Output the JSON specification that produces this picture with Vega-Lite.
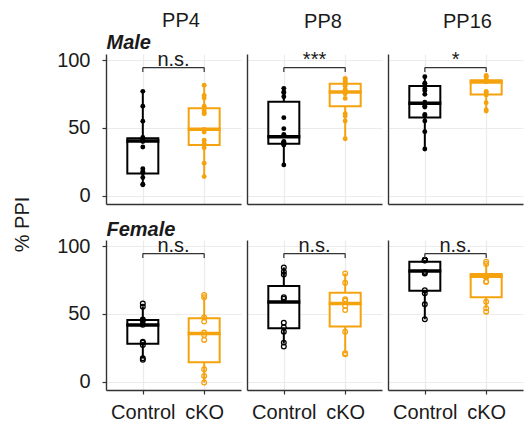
{
  "$schema": "https://vega.github.io/schema/vega-lite/v6.json",
  "padding": {"left": 12, "top": 11, "right": 2, "bottom": 2},
  "title": {"text": "% PPI", "orient": "left", "anchor": "middle", "fontSize": 20, "fontWeight": "normal", "color": "#1a1a1a", "font": "Liberation Sans", "offset": 24, "dx": -8},
  "datasets": {
    "pts": [
      {"t": "PP4", "sex": "Male", "g": "Control", "ppi": 77}, {"t": "PP4", "sex": "Male", "g": "Control", "ppi": 66}, {"t": "PP4", "sex": "Male", "g": "Control", "ppi": 55}, {"t": "PP4", "sex": "Male", "g": "Control", "ppi": 43}, {"t": "PP4", "sex": "Male", "g": "Control", "ppi": 42}, {"t": "PP4", "sex": "Male", "g": "Control", "ppi": 42}, {"t": "PP4", "sex": "Male", "g": "Control", "ppi": 41}, {"t": "PP4", "sex": "Male", "g": "Control", "ppi": 40}, {"t": "PP4", "sex": "Male", "g": "Control", "ppi": 36}, {"t": "PP4", "sex": "Male", "g": "Control", "ppi": 20}, {"t": "PP4", "sex": "Male", "g": "Control", "ppi": 18}, {"t": "PP4", "sex": "Male", "g": "Control", "ppi": 17}, {"t": "PP4", "sex": "Male", "g": "Control", "ppi": 13.5}, {"t": "PP4", "sex": "Male", "g": "Control", "ppi": 8.6}, {"t": "PP4", "sex": "Male", "g": "Control", "ppi": 8.1},
      {"t": "PP4", "sex": "Male", "g": "cKO", "ppi": 81.5}, {"t": "PP4", "sex": "Male", "g": "cKO", "ppi": 74}, {"t": "PP4", "sex": "Male", "g": "cKO", "ppi": 72}, {"t": "PP4", "sex": "Male", "g": "cKO", "ppi": 66}, {"t": "PP4", "sex": "Male", "g": "cKO", "ppi": 62.5}, {"t": "PP4", "sex": "Male", "g": "cKO", "ppi": 61}, {"t": "PP4", "sex": "Male", "g": "cKO", "ppi": 60.5}, {"t": "PP4", "sex": "Male", "g": "cKO", "ppi": 49}, {"t": "PP4", "sex": "Male", "g": "cKO", "ppi": 47}, {"t": "PP4", "sex": "Male", "g": "cKO", "ppi": 41}, {"t": "PP4", "sex": "Male", "g": "cKO", "ppi": 38}, {"t": "PP4", "sex": "Male", "g": "cKO", "ppi": 38}, {"t": "PP4", "sex": "Male", "g": "cKO", "ppi": 35.5}, {"t": "PP4", "sex": "Male", "g": "cKO", "ppi": 24}, {"t": "PP4", "sex": "Male", "g": "cKO", "ppi": 14.2},
      {"t": "PP8", "sex": "Male", "g": "Control", "ppi": 79.2}, {"t": "PP8", "sex": "Male", "g": "Control", "ppi": 76.5}, {"t": "PP8", "sex": "Male", "g": "Control", "ppi": 76}, {"t": "PP8", "sex": "Male", "g": "Control", "ppi": 73}, {"t": "PP8", "sex": "Male", "g": "Control", "ppi": 57.6}, {"t": "PP8", "sex": "Male", "g": "Control", "ppi": 49.5}, {"t": "PP8", "sex": "Male", "g": "Control", "ppi": 45.3}, {"t": "PP8", "sex": "Male", "g": "Control", "ppi": 40}, {"t": "PP8", "sex": "Male", "g": "Control", "ppi": 39.5}, {"t": "PP8", "sex": "Male", "g": "Control", "ppi": 39}, {"t": "PP8", "sex": "Male", "g": "Control", "ppi": 38.5}, {"t": "PP8", "sex": "Male", "g": "Control", "ppi": 38.2}, {"t": "PP8", "sex": "Male", "g": "Control", "ppi": 38}, {"t": "PP8", "sex": "Male", "g": "Control", "ppi": 37.5}, {"t": "PP8", "sex": "Male", "g": "Control", "ppi": 22.8},
      {"t": "PP8", "sex": "Male", "g": "cKO", "ppi": 86.5}, {"t": "PP8", "sex": "Male", "g": "cKO", "ppi": 86}, {"t": "PP8", "sex": "Male", "g": "cKO", "ppi": 84.6}, {"t": "PP8", "sex": "Male", "g": "cKO", "ppi": 84}, {"t": "PP8", "sex": "Male", "g": "cKO", "ppi": 82.5}, {"t": "PP8", "sex": "Male", "g": "cKO", "ppi": 82}, {"t": "PP8", "sex": "Male", "g": "cKO", "ppi": 81}, {"t": "PP8", "sex": "Male", "g": "cKO", "ppi": 78.4}, {"t": "PP8", "sex": "Male", "g": "cKO", "ppi": 77.5}, {"t": "PP8", "sex": "Male", "g": "cKO", "ppi": 75.2}, {"t": "PP8", "sex": "Male", "g": "cKO", "ppi": 71.8}, {"t": "PP8", "sex": "Male", "g": "cKO", "ppi": 60.5}, {"t": "PP8", "sex": "Male", "g": "cKO", "ppi": 58.8}, {"t": "PP8", "sex": "Male", "g": "cKO", "ppi": 55.1}, {"t": "PP8", "sex": "Male", "g": "cKO", "ppi": 42.1},
      {"t": "PP16", "sex": "Male", "g": "Control", "ppi": 87.7}, {"t": "PP16", "sex": "Male", "g": "Control", "ppi": 83}, {"t": "PP16", "sex": "Male", "g": "Control", "ppi": 82.5}, {"t": "PP16", "sex": "Male", "g": "Control", "ppi": 79}, {"t": "PP16", "sex": "Male", "g": "Control", "ppi": 77.7}, {"t": "PP16", "sex": "Male", "g": "Control", "ppi": 74.8}, {"t": "PP16", "sex": "Male", "g": "Control", "ppi": 69}, {"t": "PP16", "sex": "Male", "g": "Control", "ppi": 67.4}, {"t": "PP16", "sex": "Male", "g": "Control", "ppi": 66}, {"t": "PP16", "sex": "Male", "g": "Control", "ppi": 65.4}, {"t": "PP16", "sex": "Male", "g": "Control", "ppi": 60}, {"t": "PP16", "sex": "Male", "g": "Control", "ppi": 59}, {"t": "PP16", "sex": "Male", "g": "Control", "ppi": 55.1}, {"t": "PP16", "sex": "Male", "g": "Control", "ppi": 47.3}, {"t": "PP16", "sex": "Male", "g": "Control", "ppi": 34.5},
      {"t": "PP16", "sex": "Male", "g": "cKO", "ppi": 88.7}, {"t": "PP16", "sex": "Male", "g": "cKO", "ppi": 87.7}, {"t": "PP16", "sex": "Male", "g": "cKO", "ppi": 87.5}, {"t": "PP16", "sex": "Male", "g": "cKO", "ppi": 85.5}, {"t": "PP16", "sex": "Male", "g": "cKO", "ppi": 85}, {"t": "PP16", "sex": "Male", "g": "cKO", "ppi": 85}, {"t": "PP16", "sex": "Male", "g": "cKO", "ppi": 84.5}, {"t": "PP16", "sex": "Male", "g": "cKO", "ppi": 84}, {"t": "PP16", "sex": "Male", "g": "cKO", "ppi": 76.7}, {"t": "PP16", "sex": "Male", "g": "cKO", "ppi": 76.7}, {"t": "PP16", "sex": "Male", "g": "cKO", "ppi": 75}, {"t": "PP16", "sex": "Male", "g": "cKO", "ppi": 74.3}, {"t": "PP16", "sex": "Male", "g": "cKO", "ppi": 68.6}, {"t": "PP16", "sex": "Male", "g": "cKO", "ppi": 63.2}, {"t": "PP16", "sex": "Male", "g": "cKO", "ppi": 62.5},
      {"t": "PP4", "sex": "Female", "g": "Control", "ppi": 57.8}, {"t": "PP4", "sex": "Female", "g": "Control", "ppi": 55.4}, {"t": "PP4", "sex": "Female", "g": "Control", "ppi": 46}, {"t": "PP4", "sex": "Female", "g": "Control", "ppi": 45}, {"t": "PP4", "sex": "Female", "g": "Control", "ppi": 42}, {"t": "PP4", "sex": "Female", "g": "Control", "ppi": 29.6}, {"t": "PP4", "sex": "Female", "g": "Control", "ppi": 28.9}, {"t": "PP4", "sex": "Female", "g": "Control", "ppi": 27.2}, {"t": "PP4", "sex": "Female", "g": "Control", "ppi": 17.4}, {"t": "PP4", "sex": "Female", "g": "Control", "ppi": 16.2},
      {"t": "PP4", "sex": "Female", "g": "cKO", "ppi": 64}, {"t": "PP4", "sex": "Female", "g": "cKO", "ppi": 62.3}, {"t": "PP4", "sex": "Female", "g": "cKO", "ppi": 47.5}, {"t": "PP4", "sex": "Female", "g": "cKO", "ppi": 44.4}, {"t": "PP4", "sex": "Female", "g": "cKO", "ppi": 36.3}, {"t": "PP4", "sex": "Female", "g": "cKO", "ppi": 34.5}, {"t": "PP4", "sex": "Female", "g": "cKO", "ppi": 30.9}, {"t": "PP4", "sex": "Female", "g": "cKO", "ppi": 9.3}, {"t": "PP4", "sex": "Female", "g": "cKO", "ppi": 4.4}, {"t": "PP4", "sex": "Female", "g": "cKO", "ppi": -0.5},
      {"t": "PP8", "sex": "Female", "g": "Control", "ppi": 84.3}, {"t": "PP8", "sex": "Female", "g": "Control", "ppi": 81.1}, {"t": "PP8", "sex": "Female", "g": "Control", "ppi": 79}, {"t": "PP8", "sex": "Female", "g": "Control", "ppi": 62.3}, {"t": "PP8", "sex": "Female", "g": "Control", "ppi": 61.3}, {"t": "PP8", "sex": "Female", "g": "Control", "ppi": 43.6}, {"t": "PP8", "sex": "Female", "g": "Control", "ppi": 40.2}, {"t": "PP8", "sex": "Female", "g": "Control", "ppi": 37}, {"t": "PP8", "sex": "Female", "g": "Control", "ppi": 28.9}, {"t": "PP8", "sex": "Female", "g": "Control", "ppi": 26},
      {"t": "PP8", "sex": "Female", "g": "cKO", "ppi": 79.9}, {"t": "PP8", "sex": "Female", "g": "cKO", "ppi": 73}, {"t": "PP8", "sex": "Female", "g": "cKO", "ppi": 60.8}, {"t": "PP8", "sex": "Female", "g": "cKO", "ppi": 59.8}, {"t": "PP8", "sex": "Female", "g": "cKO", "ppi": 55.9}, {"t": "PP8", "sex": "Female", "g": "cKO", "ppi": 52.9}, {"t": "PP8", "sex": "Female", "g": "cKO", "ppi": 37}, {"t": "PP8", "sex": "Female", "g": "cKO", "ppi": 21}, {"t": "PP8", "sex": "Female", "g": "cKO", "ppi": 20.3},
      {"t": "PP16", "sex": "Female", "g": "Control", "ppi": 89.7}, {"t": "PP16", "sex": "Female", "g": "Control", "ppi": 89.7}, {"t": "PP16", "sex": "Female", "g": "Control", "ppi": 89.5}, {"t": "PP16", "sex": "Female", "g": "Control", "ppi": 89.7}, {"t": "PP16", "sex": "Female", "g": "Control", "ppi": 89.4}, {"t": "PP16", "sex": "Female", "g": "Control", "ppi": 81}, {"t": "PP16", "sex": "Female", "g": "Control", "ppi": 79.9}, {"t": "PP16", "sex": "Female", "g": "Control", "ppi": 67.5}, {"t": "PP16", "sex": "Female", "g": "Control", "ppi": 65.2}, {"t": "PP16", "sex": "Female", "g": "Control", "ppi": 57.1}, {"t": "PP16", "sex": "Female", "g": "Control", "ppi": 46.1},
      {"t": "PP16", "sex": "Female", "g": "cKO", "ppi": 88.5}, {"t": "PP16", "sex": "Female", "g": "cKO", "ppi": 86.8}, {"t": "PP16", "sex": "Female", "g": "cKO", "ppi": 77.5}, {"t": "PP16", "sex": "Female", "g": "cKO", "ppi": 77.5}, {"t": "PP16", "sex": "Female", "g": "cKO", "ppi": 77.6}, {"t": "PP16", "sex": "Female", "g": "cKO", "ppi": 77.4}, {"t": "PP16", "sex": "Female", "g": "cKO", "ppi": 77.5}, {"t": "PP16", "sex": "Female", "g": "cKO", "ppi": 73.8}, {"t": "PP16", "sex": "Female", "g": "cKO", "ppi": 73.8}, {"t": "PP16", "sex": "Female", "g": "cKO", "ppi": 59}, {"t": "PP16", "sex": "Female", "g": "cKO", "ppi": 54.2}, {"t": "PP16", "sex": "Female", "g": "cKO", "ppi": 51.7}
    ],
    "box": [
      {"t": "PP4", "sex": "Male", "g": "Control", "lower": 8.3, "q1": 16.4, "median": 40.5, "q3": 42.5, "upper": 77},
      {"t": "PP4", "sex": "Male", "g": "cKO", "lower": 14.2, "q1": 37.5, "median": 49, "q3": 64.5, "upper": 81.5},
      {"t": "PP8", "sex": "Male", "g": "Control", "lower": 22.8, "q1": 38.3, "median": 43.6, "q3": 69.4, "upper": 79.2},
      {"t": "PP8", "sex": "Male", "g": "cKO", "lower": 42.1, "q1": 66, "median": 76.5, "q3": 82.6, "upper": 86.5},
      {"t": "PP16", "sex": "Male", "g": "Control", "lower": 34.5, "q1": 57.8, "median": 68.2, "q3": 81, "upper": 87.7},
      {"t": "PP16", "sex": "Male", "g": "cKO", "lower": 62.5, "q1": 74.6, "median": 83.8, "q3": 85.1, "upper": 88.5},
      {"t": "PP4", "sex": "Female", "g": "Control", "lower": 17.4, "q1": 28, "median": 41.8, "q3": 45.6, "upper": 55.4},
      {"t": "PP4", "sex": "Female", "g": "cKO", "lower": -0.5, "q1": 14.5, "median": 35.7, "q3": 46.8, "upper": 62.8},
      {"t": "PP8", "sex": "Female", "g": "Control", "lower": 28.4, "q1": 39.5, "median": 58.8, "q3": 70.6, "upper": 84.3},
      {"t": "PP8", "sex": "Female", "g": "cKO", "lower": 21, "q1": 40.7, "median": 57.8, "q3": 65.7, "upper": 79.9},
      {"t": "PP16", "sex": "Female", "g": "Control", "lower": 46.1, "q1": 67.1, "median": 81.6, "q3": 88.5, "upper": 89.7},
      {"t": "PP16", "sex": "Female", "g": "cKO", "lower": 54.2, "q1": 62.3, "median": 77.8, "q3": 79.4, "upper": 86.8}
    ],
    "sig": [
      {"t": "PP4", "sex": "Male", "label": "n.s."},
      {"t": "PP8", "sex": "Male", "label": "***"},
      {"t": "PP16", "sex": "Male", "label": "*"},
      {"t": "PP4", "sex": "Female", "label": "n.s."},
      {"t": "PP8", "sex": "Female", "label": "n.s."},
      {"t": "PP16", "sex": "Female", "label": "n.s."}
    ]
  },
  "columns": 3,
  "spacing": {"row": 36, "column": 6},
  "bounds": "flush",
  "config": {
    "font": "Liberation Sans",
    "view": {"stroke": null},
    "axis": {"labelFont": "Liberation Sans", "labelFontSize": 20, "labelColor": "#1a1a1a", "domainColor": "#333333", "domainWidth": 1.4, "tickColor": "#333333", "tickWidth": 1.2, "tickSize": 4, "gridColor": "#EBEBEB", "gridWidth": 1.2},
    "title": {"font": "Liberation Sans", "fontSize": 20, "fontWeight": "normal", "color": "#1a1a1a"},
    "tick": {"opacity": 1},
    "point": {"opacity": 1}
  },
  "concat": [
    {
      "width": 135, "height": 150,
      "title": {"text": "PP4", "anchor": "middle", "baseline": "alphabetic", "dx": 7.5, "offset": -15},
      "data": {"name": "box"},
      "transform": [{"filter": "datum.t === 'PP4' && datum.sex === 'Male'"}],
      "resolve": {"axis": {"x": "independent"}},
      "layer": [
        {"mark": {"type": "rule", "strokeWidth": 2}, "encoding": {
          "x": {"field": "g", "type": "nominal", "scale": {"type": "point", "domain": ["Control", "cKO"], "padding": 0.6}, "axis": {"orient": "top", "title": "Male", "titleAnchor": "start", "titleFontStyle": "italic", "titleFontWeight": "bold", "titleFontSize": 20, "titleColor": "#1a1a1a", "titleBaseline": "alphabetic", "titlePadding": 6, "labels": false, "ticks": false, "domain": false, "grid": false}},
          "y": {"field": "lower", "type": "quantitative", "scale": {"domain": [-6, 104.5], "nice": false, "zero": false}, "axis": {"title": null, "grid": true, "values": [0, 25, 50, 75, 100], "labelExpr": "datum.value % 50 === 0 ? datum.label : ''", "labelPadding": 12}},
          "y2": {"field": "upper"},
          "color": {"field": "g", "type": "nominal", "scale": {"domain": ["Control", "cKO"], "range": ["#000000", "#F5A20F"]}, "legend": null}}},
        {"layer": [
          {"mark": {"type": "bar", "width": 31, "fill": "white", "strokeWidth": 2}, "encoding": {
            "x": {"field": "g", "type": "nominal", "axis": {"title": null, "grid": true, "labels": false, "ticks": false}},
            "y": {"field": "q1", "type": "quantitative"},
            "y2": {"field": "q3"},
            "stroke": {"field": "g", "type": "nominal", "scale": {"domain": ["Control", "cKO"], "range": ["#000000", "#F5A20F"]}, "legend": null}}},
          {"mark": {"type": "tick", "thickness": 3.5, "size": 33}, "encoding": {
            "x": {"field": "g", "type": "nominal"},
            "y": {"field": "median", "type": "quantitative"},
            "color": {"field": "g", "type": "nominal", "legend": null}}},
          {"data": {"name": "pts"}, "transform": [{"filter": "datum.t === 'PP4' && datum.sex === 'Male'"}],
           "mark": {"type": "point", "filled": true, "size": 24}, "encoding": {
            "x": {"field": "g", "type": "nominal"},
            "y": {"field": "ppi", "type": "quantitative"},
            "color": {"field": "g", "type": "nominal", "legend": null}}},
          {"mark": {"type": "rule", "color": "#333333", "strokeWidth": 1.2}, "encoding": {
            "x": {"field": "g", "type": "nominal"},
            "y": {"datum": 94.5}, "y2": {"datum": 91.2}}},
          {"data": {"name": "sig"}, "transform": [{"filter": "datum.t === 'PP4' && datum.sex === 'Male'"}],
           "mark": {"type": "rule", "color": "#333333", "strokeWidth": 1.2}, "encoding": {
            "x": {"datum": "Control"}, "x2": {"datum": "cKO"},
            "y": {"datum": 94.5}}},
          {"data": {"name": "sig"}, "transform": [{"filter": "datum.t === 'PP4' && datum.sex === 'Male'"}],
           "mark": {"type": "text", "fontSize": 20, "dx": 30.7, "baseline": "alphabetic", "color": "#1a1a1a"}, "encoding": {
            "x": {"datum": "Control"},
            "y": {"datum": 95.8},
            "text": {"field": "label"}}}
        ]}
      ]
    },
    {
      "width": 135, "height": 150,
      "title": {"text": "PP8", "anchor": "middle", "baseline": "alphabetic", "dx": 8.5, "offset": 2},
      "data": {"name": "box"},
      "transform": [{"filter": "datum.t === 'PP8' && datum.sex === 'Male'"}],
      "layer": [
        {"mark": {"type": "rule", "strokeWidth": 2}, "encoding": {
          "x": {"field": "g", "type": "nominal", "scale": {"type": "point", "domain": ["Control", "cKO"], "padding": 0.6}, "axis": {"title": null, "grid": true, "labels": false, "ticks": false}},
          "y": {"field": "lower", "type": "quantitative", "scale": {"domain": [-6, 104.5], "nice": false, "zero": false}, "axis": {"title": null, "grid": true, "values": [0, 25, 50, 75, 100], "labels": false, "ticks": false}},
          "y2": {"field": "upper"},
          "color": {"field": "g", "type": "nominal", "scale": {"domain": ["Control", "cKO"], "range": ["#000000", "#F5A20F"]}, "legend": null}}},
        {"mark": {"type": "bar", "width": 31, "fill": "white", "strokeWidth": 2}, "encoding": {
          "x": {"field": "g", "type": "nominal"},
          "y": {"field": "q1", "type": "quantitative"},
          "y2": {"field": "q3"},
          "stroke": {"field": "g", "type": "nominal", "scale": {"domain": ["Control", "cKO"], "range": ["#000000", "#F5A20F"]}, "legend": null}}},
        {"mark": {"type": "tick", "thickness": 3.5, "size": 33}, "encoding": {
          "x": {"field": "g", "type": "nominal"},
          "y": {"field": "median", "type": "quantitative"},
          "color": {"field": "g", "type": "nominal", "legend": null}}},
        {"data": {"name": "pts"}, "transform": [{"filter": "datum.t === 'PP8' && datum.sex === 'Male'"}],
         "mark": {"type": "point", "filled": true, "size": 24}, "encoding": {
          "x": {"field": "g", "type": "nominal"},
          "y": {"field": "ppi", "type": "quantitative"},
          "color": {"field": "g", "type": "nominal", "legend": null}}},
        {"mark": {"type": "rule", "color": "#333333", "strokeWidth": 1.2}, "encoding": {
          "x": {"field": "g", "type": "nominal"},
          "y": {"datum": 94.5}, "y2": {"datum": 91.2}}},
        {"data": {"name": "sig"}, "transform": [{"filter": "datum.t === 'PP8' && datum.sex === 'Male'"}],
         "mark": {"type": "rule", "color": "#333333", "strokeWidth": 1.2}, "encoding": {
          "x": {"datum": "Control"}, "x2": {"datum": "cKO"},
          "y": {"datum": 94.5}}},
        {"data": {"name": "sig"}, "transform": [{"filter": "datum.t === 'PP8' && datum.sex === 'Male'"}],
         "mark": {"type": "text", "fontSize": 20, "dx": 30.7, "baseline": "alphabetic", "color": "#1a1a1a"}, "encoding": {
          "x": {"datum": "Control"},
          "y": {"datum": 95.8},
          "text": {"field": "label"}}}
      ]
    },
    {
      "width": 135, "height": 150,
      "title": {"text": "PP16", "anchor": "middle", "baseline": "alphabetic", "dx": 12, "offset": 2},
      "data": {"name": "box"},
      "transform": [{"filter": "datum.t === 'PP16' && datum.sex === 'Male'"}],
      "layer": [
        {"mark": {"type": "rule", "strokeWidth": 2}, "encoding": {
          "x": {"field": "g", "type": "nominal", "scale": {"type": "point", "domain": ["Control", "cKO"], "padding": 0.6}, "axis": {"title": null, "grid": true, "labels": false, "ticks": false}},
          "y": {"field": "lower", "type": "quantitative", "scale": {"domain": [-6, 104.5], "nice": false, "zero": false}, "axis": {"title": null, "grid": true, "values": [0, 25, 50, 75, 100], "labels": false, "ticks": false}},
          "y2": {"field": "upper"},
          "color": {"field": "g", "type": "nominal", "scale": {"domain": ["Control", "cKO"], "range": ["#000000", "#F5A20F"]}, "legend": null}}},
        {"mark": {"type": "bar", "width": 31, "fill": "white", "strokeWidth": 2}, "encoding": {
          "x": {"field": "g", "type": "nominal"},
          "y": {"field": "q1", "type": "quantitative"},
          "y2": {"field": "q3"},
          "stroke": {"field": "g", "type": "nominal", "scale": {"domain": ["Control", "cKO"], "range": ["#000000", "#F5A20F"]}, "legend": null}}},
        {"mark": {"type": "tick", "thickness": 3.5, "size": 33}, "encoding": {
          "x": {"field": "g", "type": "nominal"},
          "y": {"field": "median", "type": "quantitative"},
          "color": {"field": "g", "type": "nominal", "legend": null}}},
        {"data": {"name": "pts"}, "transform": [{"filter": "datum.t === 'PP16' && datum.sex === 'Male'"}],
         "mark": {"type": "point", "filled": true, "size": 24}, "encoding": {
          "x": {"field": "g", "type": "nominal"},
          "y": {"field": "ppi", "type": "quantitative"},
          "color": {"field": "g", "type": "nominal", "legend": null}}},
        {"mark": {"type": "rule", "color": "#333333", "strokeWidth": 1.2}, "encoding": {
          "x": {"field": "g", "type": "nominal"},
          "y": {"datum": 94.5}, "y2": {"datum": 91.2}}},
        {"data": {"name": "sig"}, "transform": [{"filter": "datum.t === 'PP16' && datum.sex === 'Male'"}],
         "mark": {"type": "rule", "color": "#333333", "strokeWidth": 1.2}, "encoding": {
          "x": {"datum": "Control"}, "x2": {"datum": "cKO"},
          "y": {"datum": 94.5}}},
        {"data": {"name": "sig"}, "transform": [{"filter": "datum.t === 'PP16' && datum.sex === 'Male'"}],
         "mark": {"type": "text", "fontSize": 20, "dx": 30.7, "baseline": "alphabetic", "color": "#1a1a1a"}, "encoding": {
          "x": {"datum": "Control"},
          "y": {"datum": 95.8},
          "text": {"field": "label"}}}
      ]
    },
    {
      "width": 135, "height": 150,
      "data": {"name": "box"},
      "transform": [{"filter": "datum.t === 'PP4' && datum.sex === 'Female'"}],
      "resolve": {"axis": {"x": "independent"}},
      "layer": [
        {"mark": {"type": "rule", "strokeWidth": 2}, "encoding": {
          "x": {"field": "g", "type": "nominal", "scale": {"type": "point", "domain": ["Control", "cKO"], "padding": 0.6}, "axis": {"orient": "top", "title": "Female", "titleAnchor": "start", "titleFontStyle": "italic", "titleFontWeight": "bold", "titleFontSize": 20, "titleColor": "#1a1a1a", "titleBaseline": "alphabetic", "titlePadding": 5, "labels": false, "ticks": false, "domain": false, "grid": false}},
          "y": {"field": "lower", "type": "quantitative", "scale": {"domain": [-6, 104.5], "nice": false, "zero": false}, "axis": {"title": null, "grid": true, "values": [0, 25, 50, 75, 100], "labelExpr": "datum.value % 50 === 0 ? datum.label : ''", "labelPadding": 12}},
          "y2": {"field": "upper"},
          "color": {"field": "g", "type": "nominal", "scale": {"domain": ["Control", "cKO"], "range": ["#000000", "#F5A20F"]}, "legend": null}}},
        {"layer": [
          {"mark": {"type": "bar", "width": 31, "fill": "white", "strokeWidth": 2}, "encoding": {
            "x": {"field": "g", "type": "nominal", "axis": {"title": null, "grid": true, "labelAngle": 0, "labelPadding": 8}},
            "y": {"field": "q1", "type": "quantitative"},
            "y2": {"field": "q3"},
            "stroke": {"field": "g", "type": "nominal", "scale": {"domain": ["Control", "cKO"], "range": ["#000000", "#F5A20F"]}, "legend": null}}},
          {"mark": {"type": "tick", "thickness": 3.5, "size": 33}, "encoding": {
            "x": {"field": "g", "type": "nominal"},
            "y": {"field": "median", "type": "quantitative"},
            "color": {"field": "g", "type": "nominal", "legend": null}}},
          {"data": {"name": "pts"}, "transform": [{"filter": "datum.t === 'PP4' && datum.sex === 'Female'"}],
           "mark": {"type": "point", "filled": false, "size": 22, "strokeWidth": 1.3}, "encoding": {
            "x": {"field": "g", "type": "nominal"},
            "y": {"field": "ppi", "type": "quantitative"},
            "color": {"field": "g", "type": "nominal", "legend": null}}},
          {"mark": {"type": "rule", "color": "#333333", "strokeWidth": 1.2}, "encoding": {
            "x": {"field": "g", "type": "nominal"},
            "y": {"datum": 94.5}, "y2": {"datum": 91.2}}},
          {"data": {"name": "sig"}, "transform": [{"filter": "datum.t === 'PP4' && datum.sex === 'Female'"}],
           "mark": {"type": "rule", "color": "#333333", "strokeWidth": 1.2}, "encoding": {
            "x": {"datum": "Control"}, "x2": {"datum": "cKO"},
            "y": {"datum": 94.5}}},
          {"data": {"name": "sig"}, "transform": [{"filter": "datum.t === 'PP4' && datum.sex === 'Female'"}],
           "mark": {"type": "text", "fontSize": 20, "dx": 30.7, "baseline": "alphabetic", "color": "#1a1a1a"}, "encoding": {
            "x": {"datum": "Control"},
            "y": {"datum": 95.8},
            "text": {"field": "label"}}}
        ]}
      ]
    },
    {
      "width": 135, "height": 150,
      "data": {"name": "box"},
      "transform": [{"filter": "datum.t === 'PP8' && datum.sex === 'Female'"}],
      "layer": [
        {"mark": {"type": "rule", "strokeWidth": 2}, "encoding": {
          "x": {"field": "g", "type": "nominal", "scale": {"type": "point", "domain": ["Control", "cKO"], "padding": 0.6}, "axis": {"title": null, "grid": true, "labelAngle": 0, "labelPadding": 8}},
          "y": {"field": "lower", "type": "quantitative", "scale": {"domain": [-6, 104.5], "nice": false, "zero": false}, "axis": {"title": null, "grid": true, "values": [0, 25, 50, 75, 100], "labels": false, "ticks": false}},
          "y2": {"field": "upper"},
          "color": {"field": "g", "type": "nominal", "scale": {"domain": ["Control", "cKO"], "range": ["#000000", "#F5A20F"]}, "legend": null}}},
        {"mark": {"type": "bar", "width": 31, "fill": "white", "strokeWidth": 2}, "encoding": {
          "x": {"field": "g", "type": "nominal"},
          "y": {"field": "q1", "type": "quantitative"},
          "y2": {"field": "q3"},
          "stroke": {"field": "g", "type": "nominal", "scale": {"domain": ["Control", "cKO"], "range": ["#000000", "#F5A20F"]}, "legend": null}}},
        {"mark": {"type": "tick", "thickness": 3.5, "size": 33}, "encoding": {
          "x": {"field": "g", "type": "nominal"},
          "y": {"field": "median", "type": "quantitative"},
          "color": {"field": "g", "type": "nominal", "legend": null}}},
        {"data": {"name": "pts"}, "transform": [{"filter": "datum.t === 'PP8' && datum.sex === 'Female'"}],
         "mark": {"type": "point", "filled": false, "size": 22, "strokeWidth": 1.3}, "encoding": {
          "x": {"field": "g", "type": "nominal"},
          "y": {"field": "ppi", "type": "quantitative"},
          "color": {"field": "g", "type": "nominal", "legend": null}}},
        {"mark": {"type": "rule", "color": "#333333", "strokeWidth": 1.2}, "encoding": {
          "x": {"field": "g", "type": "nominal"},
          "y": {"datum": 94.5}, "y2": {"datum": 91.2}}},
        {"data": {"name": "sig"}, "transform": [{"filter": "datum.t === 'PP8' && datum.sex === 'Female'"}],
         "mark": {"type": "rule", "color": "#333333", "strokeWidth": 1.2}, "encoding": {
          "x": {"datum": "Control"}, "x2": {"datum": "cKO"},
          "y": {"datum": 94.5}}},
        {"data": {"name": "sig"}, "transform": [{"filter": "datum.t === 'PP8' && datum.sex === 'Female'"}],
         "mark": {"type": "text", "fontSize": 20, "dx": 30.7, "baseline": "alphabetic", "color": "#1a1a1a"}, "encoding": {
          "x": {"datum": "Control"},
          "y": {"datum": 95.8},
          "text": {"field": "label"}}}
      ]
    },
    {
      "width": 135, "height": 150,
      "data": {"name": "box"},
      "transform": [{"filter": "datum.t === 'PP16' && datum.sex === 'Female'"}],
      "layer": [
        {"mark": {"type": "rule", "strokeWidth": 2}, "encoding": {
          "x": {"field": "g", "type": "nominal", "scale": {"type": "point", "domain": ["Control", "cKO"], "padding": 0.6}, "axis": {"title": null, "grid": true, "labelAngle": 0, "labelPadding": 8}},
          "y": {"field": "lower", "type": "quantitative", "scale": {"domain": [-6, 104.5], "nice": false, "zero": false}, "axis": {"title": null, "grid": true, "values": [0, 25, 50, 75, 100], "labels": false, "ticks": false}},
          "y2": {"field": "upper"},
          "color": {"field": "g", "type": "nominal", "scale": {"domain": ["Control", "cKO"], "range": ["#000000", "#F5A20F"]}, "legend": null}}},
        {"mark": {"type": "bar", "width": 31, "fill": "white", "strokeWidth": 2}, "encoding": {
          "x": {"field": "g", "type": "nominal"},
          "y": {"field": "q1", "type": "quantitative"},
          "y2": {"field": "q3"},
          "stroke": {"field": "g", "type": "nominal", "scale": {"domain": ["Control", "cKO"], "range": ["#000000", "#F5A20F"]}, "legend": null}}},
        {"mark": {"type": "tick", "thickness": 3.5, "size": 33}, "encoding": {
          "x": {"field": "g", "type": "nominal"},
          "y": {"field": "median", "type": "quantitative"},
          "color": {"field": "g", "type": "nominal", "legend": null}}},
        {"data": {"name": "pts"}, "transform": [{"filter": "datum.t === 'PP16' && datum.sex === 'Female'"}],
         "mark": {"type": "point", "filled": false, "size": 22, "strokeWidth": 1.3}, "encoding": {
          "x": {"field": "g", "type": "nominal"},
          "y": {"field": "ppi", "type": "quantitative"},
          "color": {"field": "g", "type": "nominal", "legend": null}}},
        {"mark": {"type": "rule", "color": "#333333", "strokeWidth": 1.2}, "encoding": {
          "x": {"field": "g", "type": "nominal"},
          "y": {"datum": 94.5}, "y2": {"datum": 91.2}}},
        {"data": {"name": "sig"}, "transform": [{"filter": "datum.t === 'PP16' && datum.sex === 'Female'"}],
         "mark": {"type": "rule", "color": "#333333", "strokeWidth": 1.2}, "encoding": {
          "x": {"datum": "Control"}, "x2": {"datum": "cKO"},
          "y": {"datum": 94.5}}},
        {"data": {"name": "sig"}, "transform": [{"filter": "datum.t === 'PP16' && datum.sex === 'Female'"}],
         "mark": {"type": "text", "fontSize": 20, "dx": 30.7, "baseline": "alphabetic", "color": "#1a1a1a"}, "encoding": {
          "x": {"datum": "Control"},
          "y": {"datum": 95.8},
          "text": {"field": "label"}}}
      ]
    }
  ]
}
